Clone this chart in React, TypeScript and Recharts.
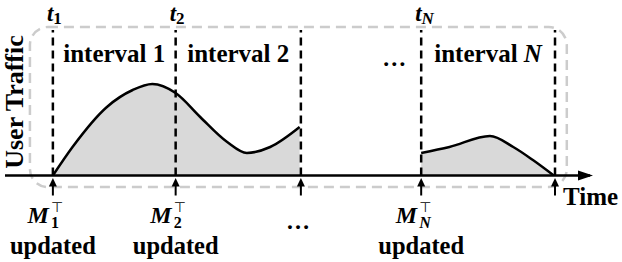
import { ComposedChart, Area, XAxis, YAxis, ReferenceLine, ReferenceDot, ReferenceArea } from 'recharts';

// time axis (arbitrary units) and traffic level
const time = [1, 1.16, 1.44, 1.65, 1.81, 2.0, 2.2, 2.42, 2.58, 2.77, 3.01, 3.5, 4.0, 4.23, 4.56, 4.75, 4.91, 5.08];
const traffic = [0, 1.9, 4.57, 5.7, 6.1, 5.5, 3.9, 2.23, 1.5, 1.9, 3.23, null, 1.5, 1.9, 2.63, 1.9, 1.03, 0];

// interval boundaries t1, t2, ..., tN, end
const boundaryTimes = [1, 2, 3.02, 4, 5.09];
const topSubscripts = ['1', '2', '', 'N', ''];
const updateSubscripts = ['1', '2', '…', 'N', ''];
const intervalNames = ['1', '2', 'N'];
const intervalStarts = [0, 1, 3];

const data = time.map((t, i) => ({ t, traffic: traffic[i] }));

const FONT = '"Liberation Serif", "Times New Roman", serif';

const TopTick = ({ cx, cy, sub }: any) => (
  <text x={cx - 6} y={cy - 5} fontFamily={FONT} fontWeight="bold" fontSize={23} fill="#000">
    <tspan fontStyle="italic">t</tspan>
    <tspan dy={3} fontSize={17} fontStyle={sub === 'N' ? 'italic' : 'normal'}>{sub}</tspan>
  </text>
);

const UpdateMark = ({ cx, cy, sub }: any) => (
  <g fontFamily={FONT} fontWeight="bold" fill="#000">
    <line x1={cx} y1={cy + 8} x2={cx} y2={cy + 20} stroke="#000" strokeWidth={2} />
    <polygon points={`${cx},${cy + 2.5} ${cx - 4},${cy + 11} ${cx + 4},${cy + 11}`} fill="#000" />
    {sub === '…' ? (
      <text x={cx - 3} y={cy + 53} fontSize={24} textAnchor="middle">…</text>
    ) : sub ? (
      <text fontSize={24}>
        <tspan x={cx - 4} y={cy + 47.5} fontStyle="italic" textAnchor="end">M</tspan>
        <tspan x={cx - 2} y={cy + 36} fontSize={14} fontWeight="normal" fontFamily='"DejaVu Sans", sans-serif' textAnchor="start">⊤</tspan>
        <tspan x={cx - 2} y={cy + 52} fontSize={16} fontStyle={sub === 'N' ? 'italic' : 'normal'} textAnchor="start">{sub}</tspan>
        <tspan x={cx} y={cy + 78} fontSize={24.5} textAnchor="middle">updated</tspan>
      </text>
    ) : null}
  </g>
);

const IntervalLabel = ({ cx, cy, name }: any) => (
  <text x={cx} y={cy} fontFamily={FONT} fontWeight="bold" fontSize={25} textAnchor="middle" fill="#000">
    interval <tspan fontStyle={name === 'N' ? 'italic' : 'normal'}>{name}</tspan>
  </text>
);

export default function App() {
  return (
    <div style={{ position: 'absolute', left: 0, top: 0, background: '#fff' }}>
      <ComposedChart width={622} height={262} data={data} margin={{ top: 25.5, right: 32, bottom: 86.5, left: 5 }}>
        <XAxis dataKey="t" type="number" domain={[0.61, 5.375]} allowDataOverflow hide />
        <YAxis type="number" domain={[0, 10]} allowDataOverflow hide />
        <ReferenceArea
          x1={0.813}
          x2={5.186}
          y1={-0.77}
          y2={9.9}
          ifOverflow="visible"
          shape={(p: any) => (
            <rect x={p.x} y={p.y} width={p.width} height={p.height} rx={18} ry={18} fill="none" stroke="#cccccc" strokeWidth={2.5} strokeDasharray="10 6" />
          )}
        />
        <Area
          dataKey="traffic"
          type="monotone"
          stroke="#000"
          strokeWidth={2.5}
          fill="#d9d9d9"
          fillOpacity={1}
          connectNulls={false}
          isAnimationActive={false}
          dot={false}
          activeDot={false}
        />
        <ReferenceLine segment={[{ x: 0.61, y: 0 }, { x: 5.375, y: 0 }]} stroke="#000" strokeWidth={2.5} />
        {boundaryTimes.map((b) => (
          <ReferenceLine key={'v' + b} segment={[{ x: b, y: 0 }, { x: b, y: 9.7 }]} stroke="#000" strokeWidth={2.5} strokeDasharray="8 5" />
        ))}
        <ReferenceDot
          x={5.375}
          y={0}
          ifOverflow="visible"
          shape={(p: any) => (
            <g>
              <polygon points={`${p.cx + 3},${p.cy} ${p.cx - 12},${p.cy - 5} ${p.cx - 12},${p.cy + 5}`} fill="#000" />
              <text x={p.cx - 27} y={p.cy + 29.5} fontFamily={FONT} fontWeight="bold" fontSize={25} fill="#000">Time</text>
            </g>
          )}
        />
        <ReferenceDot
          x={0.61}
          y={4.9}
          ifOverflow="visible"
          shape={(p: any) => (
            <text x={p.cx + 18} y={p.cy} transform={`rotate(-90 ${p.cx + 18} ${p.cy})`} textAnchor="middle" fontFamily={FONT} fontWeight="bold" fontSize={26} fill="#000">
              User Traffic
            </text>
          )}
        />
        {boundaryTimes.map((b, i) =>
          topSubscripts[i] ? (
            <ReferenceDot key={'t' + b} x={b} y={10} ifOverflow="visible" shape={(p: any) => <TopTick cx={p.cx} cy={p.cy} sub={topSubscripts[i]} />} />
          ) : null
        )}
        {boundaryTimes.map((b, i) => (
          <ReferenceDot key={'m' + b} x={b} y={0} ifOverflow="visible" shape={(p: any) => <UpdateMark cx={p.cx} cy={p.cy} sub={updateSubscripts[i]} />} />
        ))}
        {intervalNames.map((n, i) => (
          <ReferenceDot
            key={'i' + n}
            x={(boundaryTimes[intervalStarts[i]] + boundaryTimes[intervalStarts[i] + 1]) / 2}
            y={7.6}
            ifOverflow="visible"
            shape={(p: any) => <IntervalLabel cx={p.cx} cy={p.cy} name={n} />}
          />
        ))}
        <ReferenceDot
          x={3.78}
          y={7.3}
          ifOverflow="visible"
          shape={(p: any) => (
            <text x={p.cx} y={p.cy} textAnchor="middle" fontFamily={FONT} fontWeight="bold" fontSize={24} fill="#000">…</text>
          )}
        />
      </ComposedChart>
    </div>
  );
}
